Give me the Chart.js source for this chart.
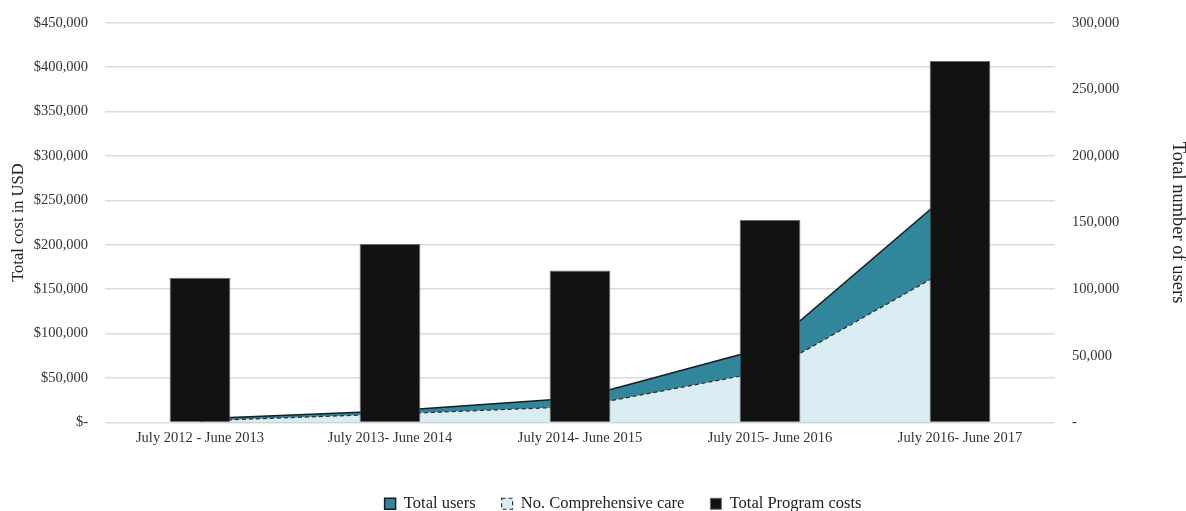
<!DOCTYPE html>
<html>
<head>
<meta charset="utf-8">
<script src="https://cdn.jsdelivr.net/npm/chart.js@4/dist/chart.umd.min.js"></script>
<style>
  html, body { margin: 0; padding: 0; background: #ffffff; overflow: hidden; }
  #wrap { width: 1186px; height: 511px; position: relative; overflow: hidden; }
  #c { position: absolute; left: 0; top: -3px; }
</style>
</head>
<body>
<div id="wrap"><canvas id="c" width="1186" height="514"></canvas></div>
<script>
// Reporting periods
const categories = [
  'July 2012 - June 2013',
  'July 2013- June 2014',
  'July 2014- June 2015',
  'July 2015- June 2016',
  'July 2016- June 2017'
];

// Total program costs (USD, left axis)
const programCosts = [163000, 201000, 171000, 228000, 407000];

// Users (right axis)
const totalUsers = [2800, 8700, 18500, 57000, 179000];
const comprehensiveCare = [1300, 6300, 12000, 39000, 120000];

// Axis ranges and steps
const costAxisMax = 450000;
const costAxisStep = 50000;
const usersAxisMax = 300000;
const usersAxisStep = 50000;

const serif = 'Liberation Serif, Times New Roman, serif';
const fmt = n => n.toLocaleString('en-US');

// Nudges the legend row to the right of the canvas centre
const legendShift = {
  id: 'legendShift',
  afterLayout(chart) {
    const l = chart.legend;
    if (l) { l.left += 30; l.right += 30; }
  }
};

new Chart(document.getElementById('c'), {
  data: {
    labels: categories,
    datasets: [
      {
        type: 'line',
        label: 'Total users',
        data: totalUsers,
        yAxisID: 'yUsers',
        fill: 'origin',
        backgroundColor: '#31869b',
        borderColor: '#1c1c1c',
        borderWidth: 1.5,
        pointRadius: 0,
        tension: 0,
        order: 3
      },
      {
        type: 'line',
        label: 'No. Comprehensive care',
        data: comprehensiveCare,
        yAxisID: 'yUsers',
        fill: 'origin',
        backgroundColor: '#daedf3',
        borderColor: '#2b2b2b',
        borderWidth: 1.2,
        borderDash: [4, 3],
        pointRadius: 0,
        tension: 0,
        order: 2
      },
      {
        type: 'bar',
        label: 'Total Program costs',
        data: programCosts,
        yAxisID: 'yCost',
        backgroundColor: '#111111',
        borderColor: '#6b6b6b',
        borderWidth: 1,
        categoryPercentage: 1,
        barPercentage: 0.32,
        order: 1
      }
    ]
  },
  plugins: [legendShift],
  options: {
    responsive: false,
    animation: false,
    layout: { padding: { top: 10, left: 0, right: 0, bottom: -11 } },
    plugins: {
      tooltip: { enabled: false },
      legend: {
        position: 'bottom',
        labels: {
          font: { family: serif, size: 16.5 },
          color: '#222',
          boxWidth: 11,
          boxHeight: 11,
          padding: 26,
          sort: (a, b) => a.datasetIndex - b.datasetIndex
        }
      }
    },
    scales: {
      x: {
        offset: true,
        grid: { display: false, drawTicks: false },
        border: { display: false },
        ticks: {
          font: { family: serif, size: 14.5 },
          color: '#333',
          padding: 7,
          maxRotation: 0
        },
        afterFit: s => { s.height = 47; }
      },
      yCost: {
        position: 'left',
        min: 0,
        max: costAxisMax,
        grid: { color: '#dcdcdc', lineWidth: 1.5, drawTicks: false },
        border: { display: false },
        ticks: {
          stepSize: costAxisStep,
          font: { family: serif, size: 14.5 },
          color: '#333',
          padding: 17,
          callback: v => v === 0 ? '$-' : '$' + fmt(v)
        },
        title: {
          display: true,
          text: 'Total cost in USD',
          font: { family: serif, size: 16.5 },
          color: '#222',
          padding: { top: 9, bottom: 0 }
        },
        afterFit: s => { s.width = 105; }
      },
      yUsers: {
        position: 'right',
        min: 0,
        max: usersAxisMax,
        grid: { display: false, drawTicks: false },
        border: { display: false },
        ticks: {
          stepSize: usersAxisStep,
          font: { family: serif, size: 14.5 },
          color: '#333',
          padding: 17,
          callback: v => v === 0 ? '-' : fmt(v)
        },
        title: {
          display: true,
          text: 'Total number of users',
          font: { family: serif, size: 18.5 },
          color: '#222',
          padding: { top: -3, bottom: 0 }
        },
        afterFit: s => { s.width = 131; }
      }
    }
  }
});
</script>
</body>
</html>
